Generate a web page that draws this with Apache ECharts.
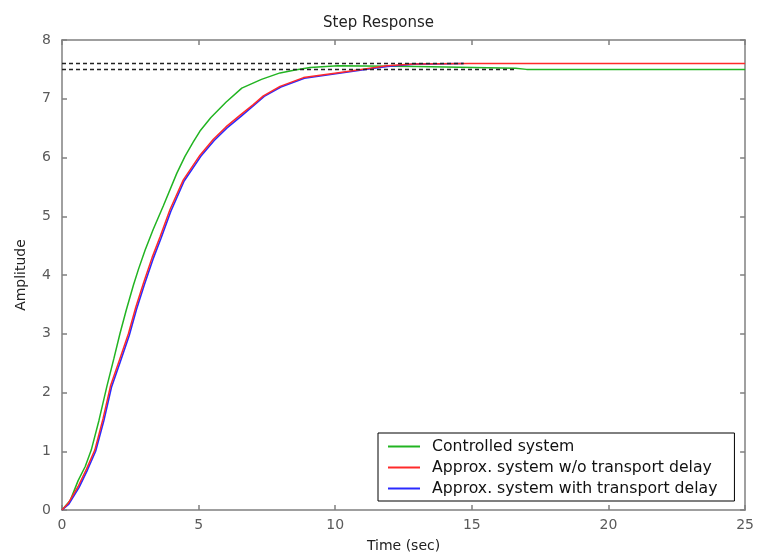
<!DOCTYPE html>
<html>
<head>
<meta charset="utf-8">
<title>Step Response</title>
<script src="https://cdn.jsdelivr.net/npm/echarts@6/dist/echarts.min.js"></script>
<style>
  html, body { margin: 0; padding: 0; background: #ffffff; }
  #chart { width: 757px; height: 560px; }
</style>
</head>
<body>
<div id="chart"></div>
<script>
// time (sec) and amplitude
var greenT = [0, 0.3, 0.59, 0.85, 1.07, 1.35, 1.64, 1.9, 2.12, 2.35, 2.61, 2.8, 3.04, 3.34, 3.71, 4.2, 4.5, 4.8, 5.05, 5.45, 6.0, 6.58, 7.3, 7.98, 8.53, 9.08, 10.1, 13, 16.6, 17, 25]
var greenV = [0, 0.16, 0.5, 0.74, 1.02, 1.52, 2.1, 2.58, 3.0, 3.4, 3.82, 4.1, 4.42, 4.78, 5.18, 5.73, 6.02, 6.26, 6.45, 6.68, 6.94, 7.18, 7.33, 7.44, 7.49, 7.53, 7.56, 7.55, 7.52, 7.5, 7.5]

var redT = [0, 0.22, 0.59, 0.9, 1.2, 1.5, 1.78, 2.1, 2.43, 2.7, 2.98, 3.3, 3.59, 3.95, 4.44, 5.05, 5.54, 6.0, 6.52, 7.0, 7.37, 7.98, 8.84, 10.05, 11.27, 11.88, 12.85, 14.9, 25]
var redV = [0, 0.11, 0.4, 0.7, 1.02, 1.55, 2.12, 2.55, 3.0, 3.45, 3.86, 4.3, 4.65, 5.11, 5.62, 6.04, 6.31, 6.52, 6.72, 6.9, 7.05, 7.21, 7.36, 7.44, 7.52, 7.56, 7.59, 7.6, 7.6]

var blueT = [0, 0.25, 0.62, 0.93, 1.23, 1.53, 1.81, 2.13, 2.46, 2.73, 3.01, 3.33, 3.62, 3.98, 4.47, 5.08, 5.57, 6.03, 6.55, 7.03, 7.4, 8.01, 8.87, 10.08, 11.3, 11.91, 12.88, 14.7]
var blueV = [0, 0.1, 0.38, 0.68, 1.0, 1.52, 2.09, 2.52, 2.97, 3.42, 3.83, 4.27, 4.62, 5.08, 5.6, 6.02, 6.29, 6.5, 6.7, 6.89, 7.04, 7.2, 7.35, 7.43, 7.51, 7.55, 7.59, 7.6]

// dashed steady-state markers
var steadyUpper = [[0, 7.6], [14.7, 7.6]]
var steadyLower = [[0, 7.5], [16.6, 7.5]]

var xTicks = [0, 5, 10, 15, 20, 25]
var yTicks = [0, 1, 2, 3, 4, 5, 6, 7, 8]

var seriesNames = ['Controlled system', 'Approx. system w/o transport delay', 'Approx. system with transport delay']

function pairs(t, v) {
  var out = []
  for (var i = 0; i < t.length; i++) {
    out.push([t[i], v[i]])
  }
  return out
}

var font = 'DejaVu Sans, Liberation Sans, Arial, sans-serif'
var axisGray = '#808080'
var labelGray = '#5a5a5a'

// box axes: every side gets inward ticks, only bottom/left get labels
function xAxisSide(pos, withLabels) {
  var ax = {
    type: 'value',
    position: pos,
    min: xTicks[0],
    max: xTicks[xTicks.length - 1],
    interval: 5,
    axisLine: { show: true, onZero: false, lineStyle: { color: axisGray, width: 1.5 } },
    axisTick: { show: true, inside: true, length: 5, lineStyle: { color: axisGray, width: 1.5 } },
    axisLabel: { show: withLabels, fontFamily: font, fontSize: 14, color: labelGray, margin: 8 },
    splitLine: { show: false }
  }
  if (withLabels) {
    ax.name = 'Time (sec)'
    ax.nameLocation = 'middle'
    ax.nameGap = 29
    ax.nameTextStyle = { fontFamily: font, fontSize: 14, color: '#222222' }
  }
  return ax
}

function yAxisSide(pos, withLabels) {
  var ax = {
    type: 'value',
    position: pos,
    min: yTicks[0],
    max: yTicks[yTicks.length - 1],
    interval: 1,
    axisLine: { show: true, onZero: false, lineStyle: { color: axisGray, width: 1.5 } },
    axisTick: { show: true, inside: true, length: 5, lineStyle: { color: axisGray, width: 1.5 } },
    axisLabel: { show: withLabels, fontFamily: font, fontSize: 14, color: labelGray, margin: 11 },
    splitLine: { show: false }
  }
  if (withLabels) {
    ax.name = 'Amplitude'
    ax.nameLocation = 'middle'
    ax.nameGap = 34
    ax.nameTextStyle = { fontFamily: font, fontSize: 14, color: '#222222' }
  }
  return ax
}

var myChart = echarts.init(document.getElementById('chart'))

var option = {
  backgroundColor: '#ffffff',
  animation: false,
  title: {
    text: 'Step Response',
    left: 'center',
    top: 11,
    textStyle: { fontFamily: font, fontSize: 15, fontWeight: 'normal', color: '#222222' }
  },
  grid: { left: 62, top: 40, width: 684, height: 470 },
  legend: {
    data: seriesNames,
    orient: 'vertical',
    left: 378,
    top: 433,
    padding: [5, 17, 4, 10],
    itemGap: 4,
    itemWidth: 32,
    itemHeight: 2,
    icon: 'rect',
    backgroundColor: '#ffffff',
    borderColor: '#000000',
    borderWidth: 1,
    borderRadius: 0,
    textStyle: { fontFamily: font, fontSize: 15.7, color: '#111111', padding: [0, 0, 0, 7], lineHeight: 17 }
  },
  xAxis: [xAxisSide('bottom', true), xAxisSide('top', false)],
  yAxis: [yAxisSide('left', true), yAxisSide('right', false)],
  series: [
    {
      name: seriesNames[0],
      type: 'line',
      data: pairs(greenT, greenV),
      symbol: 'none',
      z: 2,
      itemStyle: { color: '#22b422' },
      lineStyle: { color: '#22b422', width: 1.5 }
    },
    {
      name: seriesNames[2],
      type: 'line',
      data: pairs(blueT, blueV),
      symbol: 'none',
      z: 3,
      itemStyle: { color: '#2a2aff' },
      lineStyle: { color: '#2a2aff', width: 1.6 }
    },
    {
      name: seriesNames[1],
      type: 'line',
      data: pairs(redT, redV),
      symbol: 'none',
      z: 4,
      itemStyle: { color: '#ff2a2a' },
      lineStyle: { color: '#ff2a2a', width: 1.5 }
    },
    {
      name: 'steady upper',
      type: 'line',
      data: steadyUpper,
      symbol: 'none',
      silent: true,
      z: 5,
      lineStyle: { color: '#222222', width: 1.5, type: [4, 3] }
    },
    {
      name: 'steady lower',
      type: 'line',
      data: steadyLower,
      symbol: 'none',
      silent: true,
      z: 5,
      lineStyle: { color: '#222222', width: 1.5, type: [4, 3] }
    }
  ]
}

myChart.setOption(option, true)
window.addEventListener('resize', () => {
  myChart.resize()
})
</script>
</body>
</html>
